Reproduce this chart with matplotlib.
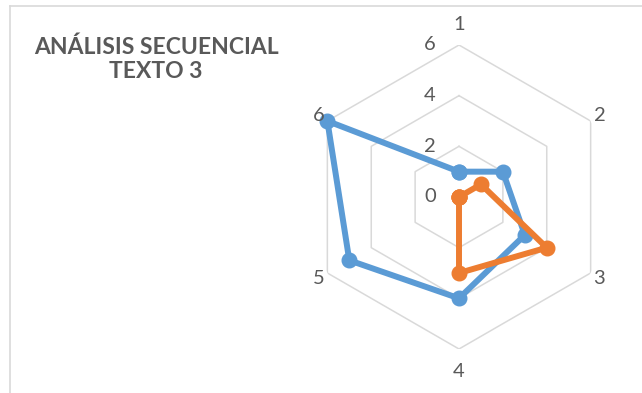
import numpy as np
import matplotlib
matplotlib.use("Agg")
import matplotlib.pyplot as plt
from matplotlib.lines import Line2D

plt.rcParams['font.family'] = ['Lato', 'DejaVu Sans']

# datos del grafico radial
categorias = ['1', '2', '3', '4', '5', '6']
serie_azul = [1, 2, 3, 4, 5, 6]
serie_naranja = [0, 1, 4, 3, 0, 0]
niveles = [2, 4, 6]
etiquetas_r = [0, 2, 4, 6]

gris_texto = '#595959'
gris_linea = '#D9D9D9'

fig = plt.figure(figsize=(6.42, 3.93), dpi=100)
ax = fig.add_axes([307/642, 44/393, 304/642, 304/393], projection='polar')
ax.set_theta_offset(np.pi/2)
ax.set_theta_direction(-1)
ax.set_ylim(0, 6)
ax.grid(False)
ax.spines['polar'].set_visible(False)
ax.set_xticks([])
ax.set_yticks([])
ax.patch.set_alpha(0)

n = len(categorias)
ang = np.linspace(0, 2*np.pi, n, endpoint=False)
ang_c = np.append(ang, ang[0])

# hexagonos de la cuadricula
for r in niveles:
    ax.plot(ang_c, [r]*(n+1), color=gris_linea, lw=1.1, zorder=1)

# series
for datos, color in [(serie_azul, '#5B9BD5'), (serie_naranja, '#ED7D31')]:
    d = np.append(datos, datos[0])
    ax.plot(ang_c, d, color=color, lw=4.3, marker='o', ms=10.5,
            solid_joinstyle='round', zorder=3, clip_on=False)

# etiquetas de categoria
radios_lab = [6.8, 6.4, 6.4, 6.9, 6.4, 6.4]
for a, lab, rl in zip(ang, categorias, radios_lab):
    ax.text(a, rl, lab, ha='center', va='center', fontsize=14.5,
            color=gris_texto)

# etiquetas del eje radial
for r in etiquetas_r:
    ax.annotate(str(r), xy=(0, r), xytext=(-29, 0), textcoords='offset pixels',
                ha='center', va='center', fontsize=14.5, color=gris_texto,
                zorder=2)

fig.text(156/642, 1 - 59/393, u'ANÁLISIS SECUENCIAL\nTEXTO 3', ha='center',
         va='center', fontsize=16.5, fontweight='bold', color=gris_texto,
         linespacing=1.2)

# borde del area del grafico
fig.add_artist(Line2D([10/642, 1], [1 - 6/393, 1 - 6/393], color=gris_linea, lw=1.2))
fig.add_artist(Line2D([10/642, 10/642], [0, 1 - 6/393], color=gris_linea, lw=1.2))

fig.savefig('out.png', dpi=100)
